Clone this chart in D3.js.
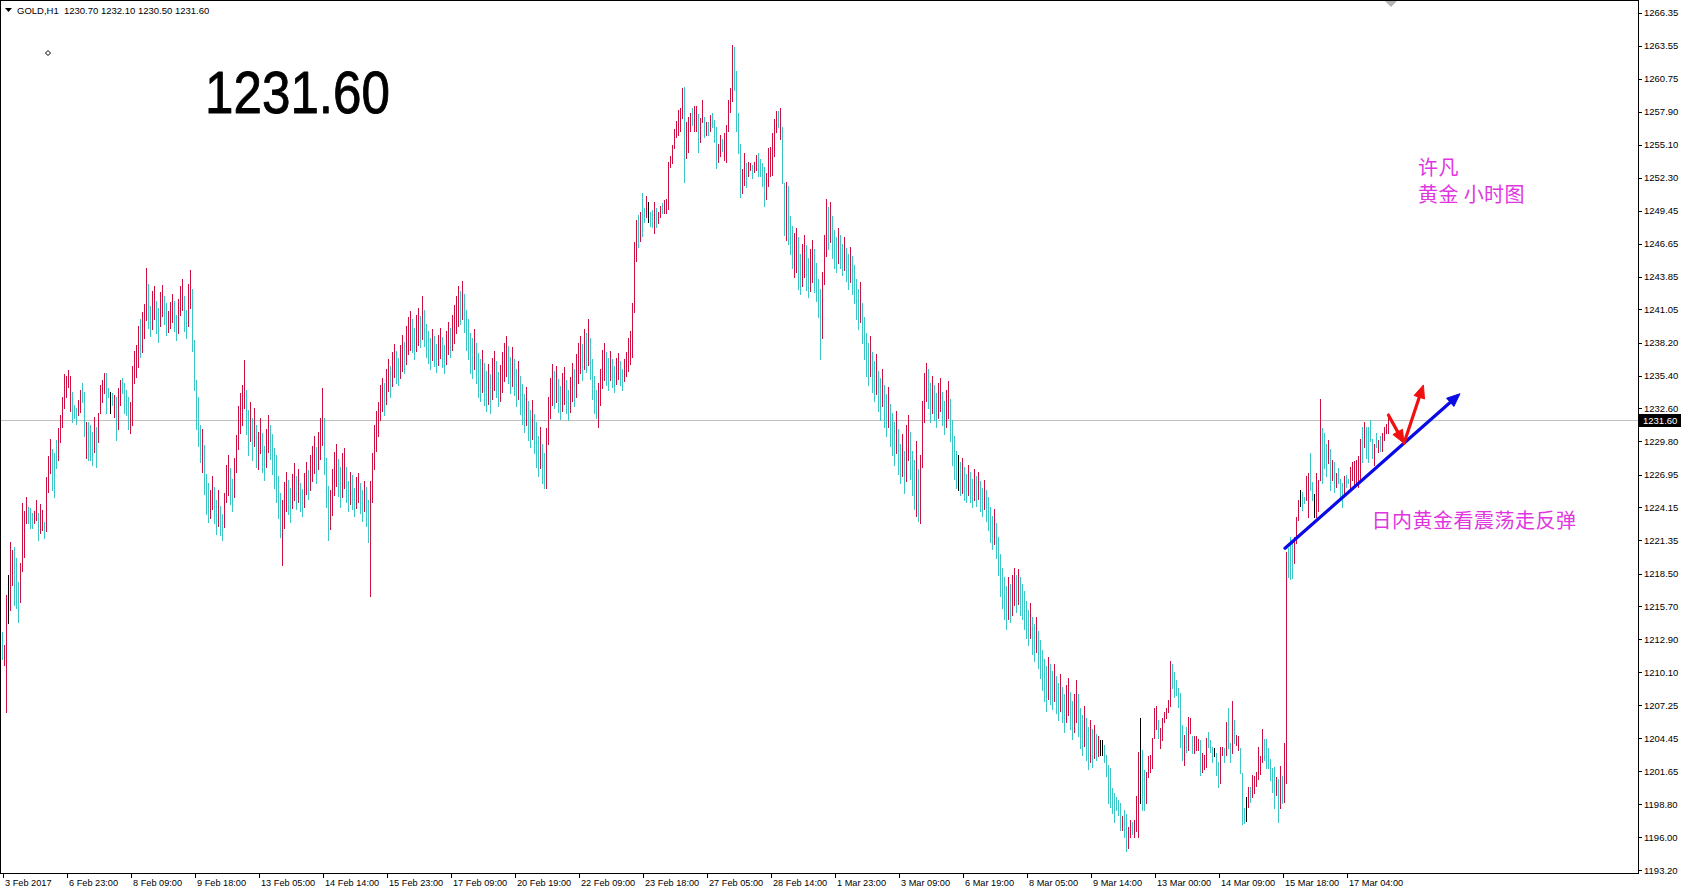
<!DOCTYPE html>
<html><head><meta charset="utf-8">
<script src="https://cdn.jsdelivr.net/npm/d3@7"></script>
<style>html,body{margin:0;padding:0;background:#fff;overflow:hidden}</style>
</head><body>
<svg id="c" width="1683" height="894"></svg>
<script>
// ---------------- data ----------------
const symbolTitle = "GOLD,H1";
const lastOHLC = [1230.70, 1232.10, 1230.50, 1231.60];
const lastPrice = 1231.60;
const bigLabel = "1231.60";
const priceTicks = [1266.35,1263.55,1260.75,1257.90,1255.10,1252.30,1249.45,1246.65,1243.85,1241.05,1238.20,1235.40,1232.60,1229.80,1226.95,1224.15,1221.35,1218.50,1215.70,1212.90,1210.10,1207.25,1204.45,1201.65,1198.80,1196.00,1193.20];
const timeLabels = ["3 Feb 2017","6 Feb 23:00","8 Feb 09:00","9 Feb 18:00","13 Feb 05:00","14 Feb 14:00","15 Feb 23:00","17 Feb 09:00","20 Feb 19:00","22 Feb 09:00","23 Feb 18:00","27 Feb 05:00","28 Feb 14:00","1 Mar 23:00","3 Mar 09:00","6 Mar 19:00","8 Mar 05:00","9 Mar 14:00","13 Mar 00:00","14 Mar 09:00","15 Mar 18:00","17 Mar 04:00"];
const timeLabelStep = 32;

const highs = [
1213.5,1212.4,1216.7,1218.4,1221.2,1220.5,1220.8,1219.8,1217.8,1219.4,1224.5,1223.8,1225.0,1224.2,1224.1,1223.7,1223.8,1224.8,1223.7,1224.4,1223.9,1222.9,1226.7,1228.5,1230.0,1229.1,1228.8,1229.9,1230.9,1232.0,1233.6,1235.5,
1235.4,1235.9,1235.4,1234.0,1232.9,1232.6,1233.3,1234.2,1234.8,1234.0,1231.4,1231.4,1231.2,1230.6,1231.9,1231.0,1232.2,1234.6,1235.0,1235.6,1235.6,1234.3,1234.0,1233.9,1233.7,1233.6,1234.3,1235.0,1235.2,1234.8,1234.2,1233.6,
1233.1,1236.2,1237.5,1238.0,1239.6,1240.2,1240.8,1241.5,1244.6,1243.2,1241.3,1242.6,1243.0,1241.8,1241.2,1242.5,1243.1,1242.2,1241.6,1240.9,1241.7,1242.4,1241.8,1240.6,1241.9,1243.0,1243.6,1242.2,1241.0,1243.2,1244.4,1242.8,
1238.4,1235.0,1233.6,1231.2,1230.8,1229.5,1227.0,1226.2,1225.6,1226.8,1225.9,1224.8,1225.6,1224.3,1223.6,1225.4,1227.8,1228.6,1227.5,1226.6,1228.4,1230.3,1232.8,1233.9,1234.6,1236.7,1234.2,1232.5,1233.1,1231.8,1232.6,1231.2,
1230.6,1231.8,1230.5,1229.4,1230.8,1232.0,1231.2,1230.4,1229.2,1228.6,1226.8,1225.4,1224.8,1226.3,1227.2,1226.5,1225.8,1227.0,1227.9,1226.8,1227.4,1226.2,1225.7,1227.1,1228.0,1227.3,1228.6,1229.4,1230.2,1229.3,1230.6,1231.8,
1234.3,1231.8,1228.4,1226.0,1225.6,1227.4,1228.9,1229.6,1228.3,1227.6,1228.8,1229.2,1227.6,1226.4,1227.2,1226.9,1225.8,1226.7,1227.1,1226.2,1225.6,1226.4,1225.9,1224.8,1226.4,1228.8,1231.2,1232.4,1233.1,1234.6,1235.2,1234.8,
1236.0,1236.8,1236.2,1237.4,1238.1,1237.5,1236.9,1238.0,1238.9,1238.3,1239.6,1240.4,1240.9,1240.2,1239.5,1240.6,1241.2,1240.5,1242.2,1241.0,1239.8,1239.2,1238.6,1239.4,1238.8,1238.1,1238.9,1239.5,1238.7,1238.0,1239.2,1240.0,
1239.5,1240.6,1241.4,1242.2,1243.0,1242.6,1243.5,1242.4,1241.0,1240.2,1239.0,1238.6,1239.4,1238.2,1237.3,1236.8,1237.6,1236.5,1235.8,1236.4,1235.5,1236.9,1237.5,1236.6,1235.7,1236.3,1237.4,1238.2,1238.8,1237.9,1237.0,1237.8,
1236.8,1236.0,1236.6,1235.4,1234.7,1233.8,1234.4,1233.2,1232.5,1233.3,1232.1,1231.4,1230.2,1231.0,1229.6,1228.8,1230.9,1233.6,1235.2,1236.4,1235.8,1236.2,1235.1,1234.5,1235.6,1236.1,1235.0,1234.2,1235.3,1236.5,1236.0,1237.2,
1238.2,1238.8,1238.1,1239.4,1239.0,1240.2,1238.6,1236.8,1235.4,1234.2,1234.8,1236.0,1237.6,1238.2,1237.4,1236.9,1237.5,1236.8,1236.2,1236.9,1237.3,1236.6,1236.0,1236.8,1237.4,1238.6,1239.2,1241.6,1246.8,1248.7,1249.1,1249.4,
1251.0,1249.7,1250.7,1250.2,1249.4,1249.5,1250.2,1249.7,1249.4,1249.9,1250.1,1250.4,1250.5,1253.6,1254.1,1255.1,1256.4,1257.1,1258.1,1258.2,1259.9,1260.0,1257.0,1257.5,1257.8,1258.2,1258.4,1258.4,1257.7,1257.4,1258.9,1257.5,
1257.0,1257.0,1257.6,1257.8,1257.2,1256.6,1255.2,1255.9,1255.6,1256.1,1256.8,1258.9,1259.9,1263.6,1263.4,1261.4,1257.8,1255.2,1253.0,1254.4,1253.5,1253.6,1253.5,1253.4,1253.6,1254.2,1254.4,1253.9,1253.5,1253.2,1252.7,1254.8,
1254.9,1256.1,1257.3,1258.0,1258.0,1258.2,1256.6,1251.8,1251.9,1251.6,1249.0,1248.2,1247.6,1248.0,1247.2,1245.8,1246.6,1247.4,1246.5,1245.4,1246.2,1247.0,1246.2,1245.0,1243.6,1242.8,1244.2,1247.4,1250.5,1249.8,1250.2,1249.0,
1247.8,1247.2,1248.0,1247.4,1246.6,1247.2,1246.3,1245.8,1246.4,1245.6,1244.8,1243.6,1242.8,1243.4,1241.6,1240.4,1239.0,1238.2,1238.8,1237.4,1236.6,1237.2,1235.8,1235.2,1236.0,1234.6,1233.8,1234.4,1233.0,1232.2,1231.4,1232.4,
1230.8,1229.6,1230.4,1229.0,1231.2,1232.0,1230.6,1229.0,1228.2,1229.8,1227.4,1228.6,1233.2,1235.6,1236.5,1236.0,1234.8,1235.4,1234.6,1233.9,1234.8,1235.2,1234.0,1233.2,1234.2,1234.9,1233.4,1231.6,1230.2,1229.0,1228.6,1228.0,
1228.4,1227.6,1227.0,1227.8,1227.2,1226.6,1227.4,1226.8,1227.2,1226.4,1225.8,1226.5,1225.6,1225.0,1224.2,1223.4,1224.0,1222.8,1221.6,1220.2,1219.0,1218.2,1217.4,1218.2,1217.6,1218.4,1219.0,1218.4,1218.9,1218.2,1217.6,1217.0,
1216.2,1215.4,1216.0,1214.8,1214.2,1214.8,1213.6,1212.8,1212.0,1211.2,1210.6,1211.4,1210.8,1210.2,1210.8,1209.8,1209.2,1209.9,1208.8,1208.2,1209.0,1209.6,1208.4,1207.6,1208.2,1209.4,1208.2,1207.0,1206.4,1207.2,1206.2,1205.4,
1206.0,1205.2,1205.6,1204.8,1204.6,1204.3,1204.3,1203.9,1203.0,1202.2,1201.9,1200.2,1199.8,1199.4,1199.2,1198.9,1197.8,1198.3,1198.0,1196.9,1197.5,1197.3,1197.5,1199.5,1203.3,1206.2,1203.4,1201.7,1201.6,1202.9,1203.0,1204.5,
1207.0,1207.2,1206.0,1205.3,1206.2,1206.7,1207.0,1207.7,1211.0,1210.8,1210.1,1209.4,1208.7,1208.3,1205.6,1204.7,1205.4,1206.3,1206.2,1204.6,1204.6,1204.6,1204.4,1204.3,1203.2,1203.0,1204.5,1205.0,1204.3,1203.7,1203.6,1203.2,
1202.4,1203.7,1203.7,1203.6,1205.8,1207.0,1204.0,1207.6,1206.0,1204.7,1204.6,1203.6,1201.5,1198.5,1199.4,1200.3,1200.3,1201.3,1201.2,1201.6,1203.7,1202.9,1205.2,1204.4,1204.4,1203.6,1202.7,1201.9,1202.0,1201.1,1201.0,1202.1,
1201.2,1204.0,1220.3,1220.7,1221.6,1221.1,1221.6,1223.3,1224.8,1225.6,1225.5,1225.0,1226.8,1227.1,1228.8,1226.3,1225.3,1227.1,1226.5,1233.4,1230.9,1230.5,1229.6,1229.9,1229.1,1228.2,1228.0,1227.1,1227.5,1226.6,1226.2,1226.8,
1226.9,1226.6,1227.6,1228.0,1228.1,1228.2,1228.5,1230.0,1231.0,1231.4,1231.0,1231.0,1231.6,1230.0,1229.6,1230.5,1229.9,1230.2,1230.5,1231.0,1231.3,1232.1
];
const lows = [
1211.2,1210.7,1206.7,1214.3,1215.4,1217.5,1215.8,1215.6,1214.4,1216.1,1218.7,1219.9,1222.8,1222.8,1222.4,1222.4,1222.8,1223.1,1221.4,1222.0,1222.2,1221.5,1222.1,1225.5,1227.1,1225.6,1225.0,1227.5,1228.2,1229.7,1231.0,1232.6,
1233.6,1234.4,1232.4,1231.4,1231.8,1231.3,1232.0,1232.3,1233.1,1230.2,1228.4,1228.2,1228.2,1227.8,1228.9,1227.6,1229.7,1232.2,1233.1,1233.9,1232.2,1233.6,1232.2,1232.9,1231.9,1229.9,1230.8,1232.9,1233.9,1232.2,1232.0,1230.8,
1230.5,1231.2,1234.8,1235.3,1236.1,1237.0,1237.4,1238.6,1240.1,1239.5,1238.8,1239.4,1240.2,1239.0,1238.3,1239.6,1240.5,1239.8,1238.9,1239.1,1239.5,1240.0,1239.2,1238.4,1239.0,1240.6,1241.0,1239.2,1238.6,1239.6,1241.2,1237.5,
1234.2,1230.8,1229.4,1228.0,1227.2,1225.3,1223.6,1222.9,1223.2,1224.0,1222.8,1221.9,1222.6,1221.8,1221.4,1222.5,1224.6,1225.2,1224.4,1223.8,1225.0,1227.2,1229.1,1230.5,1231.2,1232.6,1230.4,1228.6,1229.8,1228.2,1229.4,1227.6,
1227.4,1228.8,1227.2,1226.5,1227.6,1228.9,1228.3,1227.0,1225.8,1224.6,1223.2,1221.6,1219.2,1222.4,1223.8,1223.6,1222.9,1224.1,1224.8,1224.0,1224.6,1223.8,1223.4,1224.2,1225.3,1224.9,1225.6,1226.4,1227.1,1226.2,1227.4,1228.3,
1229.5,1227.0,1224.2,1221.4,1222.3,1223.5,1225.2,1226.0,1225.1,1224.2,1225.0,1225.8,1224.6,1223.8,1224.4,1224.0,1223.4,1224.1,1224.6,1223.7,1223.0,1223.8,1222.6,1221.2,1216.6,1224.6,1227.4,1229.0,1230.2,1231.6,1232.4,1232.0,
1233.0,1234.1,1233.6,1234.5,1235.3,1234.8,1234.6,1235.2,1235.8,1235.6,1236.4,1237.2,1237.6,1237.4,1236.8,1237.5,1238.0,1237.8,1238.5,1237.9,1237.0,1236.5,1236.0,1236.7,1236.2,1235.7,1236.3,1236.9,1236.1,1235.6,1236.4,1237.2,
1237.0,1237.6,1238.2,1239.0,1239.6,1239.8,1240.2,1239.1,1237.6,1236.8,1235.6,1235.2,1236.0,1234.8,1233.6,1233.2,1234.0,1232.9,1232.4,1233.0,1232.2,1233.4,1234.2,1233.6,1232.8,1233.2,1234.0,1234.9,1235.4,1234.8,1233.9,1234.5,
1233.7,1232.8,1233.4,1232.1,1231.3,1230.6,1231.2,1229.9,1229.3,1230.0,1228.8,1227.6,1226.8,1227.5,1226.2,1225.8,1225.8,1229.6,1231.8,1232.9,1232.6,1233.1,1232.3,1231.7,1232.4,1233.0,1232.2,1231.6,1232.3,1233.2,1232.8,1233.6,
1234.8,1235.6,1235.0,1236.0,1235.7,1236.3,1235.1,1233.4,1232.2,1231.8,1231.0,1232.9,1234.3,1235.0,1234.6,1234.2,1235.0,1234.4,1234.0,1234.7,1235.1,1234.6,1234.2,1234.9,1235.4,1235.8,1236.4,1237.0,1240.8,1245.2,1246.4,1246.9,
1247.3,1248.5,1248.9,1248.5,1248.2,1248.1,1247.6,1248.1,1248.4,1248.9,1249.3,1249.3,1249.3,1249.6,1253.2,1253.5,1254.8,1255.8,1255.9,1256.3,1257.4,1251.9,1254.0,1254.5,1256.3,1256.8,1256.3,1256.3,1254.5,1255.3,1257.0,1255.8,
1255.9,1255.9,1256.3,1256.6,1255.3,1253.1,1253.6,1254.1,1254.6,1253.8,1253.6,1256.3,1257.9,1258.8,1259.8,1256.3,1254.4,1250.6,1251.0,1251.7,1251.5,1252.4,1252.9,1252.3,1252.8,1252.9,1252.4,1252.4,1251.6,1249.9,1250.5,1251.6,
1252.4,1252.5,1254.1,1256.2,1256.6,1255.6,1251.8,1247.4,1247.0,1246.6,1245.8,1244.6,1243.8,1244.2,1242.8,1242.4,1243.0,1243.8,1242.7,1242.1,1242.6,1243.4,1242.5,1241.8,1240.4,1236.8,1238.6,1243.2,1245.6,1246.2,1246.8,1245.4,
1244.6,1244.2,1245.0,1244.6,1244.0,1244.4,1243.5,1242.8,1243.4,1242.4,1241.6,1240.2,1239.4,1240.0,1238.2,1236.8,1235.4,1234.6,1235.4,1234.0,1233.2,1233.8,1232.4,1231.6,1232.8,1231.0,1230.2,1231.0,1229.4,1228.6,1227.8,1228.8,
1227.0,1226.2,1226.8,1225.4,1226.4,1228.2,1226.6,1225.2,1224.0,1223.4,1223.0,1222.8,1227.6,1231.4,1233.2,1232.6,1231.4,1232.2,1231.6,1231.0,1231.8,1232.4,1231.2,1230.4,1231.0,1231.8,1229.8,1227.8,1226.6,1225.8,1225.6,1225.2,
1225.4,1224.8,1224.6,1225.2,1224.6,1224.2,1224.8,1224.3,1224.9,1223.8,1223.4,1224.0,1223.0,1222.2,1221.2,1220.6,1221.0,1219.8,1218.4,1216.6,1215.6,1214.6,1213.8,1214.6,1214.4,1215.0,1215.8,1215.2,1215.9,1215.0,1214.6,1213.8,
1213.0,1212.4,1213.0,1211.6,1211.0,1211.8,1210.4,1209.6,1208.6,1207.6,1206.8,1207.8,1207.4,1206.9,1207.6,1206.6,1206.0,1206.8,1205.8,1205.0,1205.8,1206.4,1205.2,1204.4,1205.0,1205.8,1204.6,1203.6,1203.0,1203.8,1202.6,1201.8,
1202.4,1202.0,1202.8,1202.6,1202.9,1203.0,1203.0,1202.4,1201.2,1198.9,1198.6,1198.1,1197.3,1198.3,1197.9,1196.6,1196.6,1196.0,1194.8,1195.1,1196.0,1196.3,1196.0,1196.5,1196.0,1198.9,1198.3,1198.3,1198.9,1201.1,1201.6,1201.9,
1204.5,1205.2,1204.5,1203.6,1204.3,1205.8,1206.2,1206.7,1207.2,1208.7,1208.0,1208.1,1207.1,1203.7,1202.6,1202.2,1203.3,1203.4,1204.9,1203.2,1203.2,1203.4,1203.4,1201.3,1201.6,1201.8,1202.0,1203.7,1203.3,1202.4,1202.9,1201.3,
1200.3,1200.6,1203.0,1202.4,1203.0,1203.6,1202.4,1203.2,1204.0,1203.9,1203.4,1201.5,1197.1,1197.2,1197.4,1198.6,1199.0,1199.4,1199.8,1200.4,1201.0,1201.4,1202.4,1202.6,1201.9,1201.9,1200.9,1199.9,1198.5,1199.6,1197.3,1198.5,
1198.9,1199.0,1200.6,1218.2,1218.0,1218.1,1219.4,1221.1,1223.1,1224.3,1223.9,1224.5,1224.8,1223.3,1225.6,1224.8,1223.3,1223.3,1223.8,1226.5,1226.2,1227.5,1226.8,1227.9,1225.6,1226.5,1225.5,1225.9,1226.2,1224.8,1224.2,1225.2,
1225.9,1226.2,1225.6,1226.5,1225.9,1226.2,1225.9,1226.5,1228.0,1229.3,1228.4,1228.0,1229.8,1228.4,1227.8,1229.3,1228.9,1229.0,1229.0,1229.9,1230.5,1230.5
];
// u = close above open, d = close below open, n = unchanged (one letter per bar)
const dirs = `
duun uudd duuu uddd uudu uduu uddd uuuu
uuud dduu ddud ddud uuuu ddnd uduu dddd
uuuu uduu uddu uddu uddu uudd uuud duud
dddd uddd uudd uddu uudd uuuu uudd udud
uudd uudd dddd uuud duud uddu uduu uduu
uddd uuuu dduu ddud duud dudd uuuu uuud
uudu uddu uduu uddu udud dddu dduu dduu
duuu udud dddd uddd uddu duud duuu uddu
ddud ddud dudd dudd uuuu dudd uudd uudu
uudu dudd dduu uudd uddu uddu uuuu uudu
ddun ddud uudu uuuu uuuu uduu uduu duud
udud dduu duuu uudd dduu duud uudd dduu
uuuu dudd uddd uudd uudd uudd dduu udud
ddud dudd uddd dudd ddud dudd uddu dddu
ddud uudd dudu uuud dudd uudd uudd ddnd
uddu ddud uddu dddd uddd dddu duud uddd
ddud dudd dddu ddud dudd uudd uudd dudd
udud unnd dddd dddd uddu uduu undd uuuu
uudu uuuu uddd dddu duud uuud uuud ddnd
duud uddu duud ddnu duuu uuud dddd dudu
duud dduu undd uudd nuuu dddu dudu dddu
dduu uuuu dudd ddud uduu uu`.replace(/\s/g, "");

// annotations, anchored in (bar index, price)
const noteHeader = {lines: ["许凡", "黄金 小时图"], bar: 708, price: 1252.5, lineStep: 1250.2};
const noteView = {text: "日内黄金看震荡走反弹", bar: 684.8, price: 1222.4};
const bigLabelPos = {bar: 101.5, price: 1257.8};
const blueArrow = [[641.5, 1220.66], [729.0, 1233.85]];
const redArrow = [[693.2, 1232.03], [701.0, 1229.62], [710.7, 1234.6]];

// ---------------- drawing ----------------
const W = 1683, H = 894;
const plotRight = 1638, plotBottom = 873;
const svg = d3.select("#c");
svg.append("rect").attr("width", W).attr("height", H).attr("fill", "#fff");

const x = d3.scaleLinear().domain([0, 818]).range([2, plotRight]);
const y = d3.scaleLinear().domain([1196.0, 1266.35]).range([837.2, 12.9]);

const colUp = "#cc1040", colDn = "#3cc6c6", colFlat = "#000000";
const bars = highs.map((h, i) => ({i, h, l: lows[i], d: dirs[i]}));
if (highs.length !== lows.length || highs.length !== dirs.length) console.error("length mismatch", highs.length, lows.length, dirs.length);

const clipId = "plotclip";
svg.append("clipPath").attr("id", clipId).append("rect").attr("x", 1).attr("y", 1).attr("width", plotRight - 1).attr("height", plotBottom - 1);
const plot = svg.append("g").attr("clip-path", `url(#${clipId})`);

// last price line
plot.append("line").attr("x1", 0).attr("x2", plotRight).attr("y1", Math.round(y(lastPrice)) + 0.5).attr("y2", Math.round(y(lastPrice)) + 0.5)
  .attr("stroke", "#c0c0c0").attr("stroke-width", 1);

plot.append("g").selectAll("rect").data(bars).join("rect")
  .attr("x", d => Math.round(x(d.i)))
  .attr("width", 1)
  .attr("y", d => Math.round(y(d.h)))
  .attr("height", d => Math.max(1, Math.round(y(d.l)) - Math.round(y(d.h)) + 1))
  .attr("fill", d => d.d === "u" ? colUp : d.d === "d" ? colDn : colFlat)
  .attr("shape-rendering", "crispEdges");

// frame
const frame = svg.append("g").attr("stroke", "#000").attr("stroke-width", 1).attr("shape-rendering", "crispEdges");
frame.append("line").attr("x1", 0.5).attr("x2", 0.5).attr("y1", 0).attr("y2", plotBottom + 0.5);
frame.append("line").attr("x1", 0).attr("x2", plotRight + 0.5).attr("y1", 0.5).attr("y2", 0.5);
frame.append("line").attr("x1", plotRight + 0.5).attr("x2", plotRight + 0.5).attr("y1", 0).attr("y2", plotBottom + 0.5);
frame.append("line").attr("x1", 0).attr("x2", plotRight + 0.5).attr("y1", plotBottom + 0.5).attr("y2", plotBottom + 0.5);

const axisFont = "Tahoma, 'Liberation Sans', Arial, sans-serif";

// price axis
const yAxis = d3.axisRight(y).tickValues(priceTicks).tickSize(3).tickPadding(2).tickFormat(d3.format(".2f"));
const gy = svg.append("g").attr("transform", `translate(${plotRight + 1},0)`).call(yAxis);
gy.select(".domain").remove();
gy.selectAll(".tick line").attr("stroke", "#000").attr("shape-rendering", "crispEdges");
gy.selectAll(".tick text").attr("font-family", axisFont).attr("font-size", "9.5px").attr("fill", "#000");

// last price box
const ly = Math.round(y(lastPrice));
svg.append("rect").attr("x", plotRight + 1).attr("y", ly - 6).attr("width", 42).attr("height", 13).attr("fill", "#000");
svg.append("text").attr("x", plotRight + 5).attr("y", ly + 4).attr("font-family", axisFont).attr("font-size", "9.5px")
  .attr("fill", "#fff").text(d3.format(".2f")(lastPrice));

// time axis
const timeIdx = timeLabels.map((_, k) => k * timeLabelStep);
const xAxis = d3.axisBottom(x).tickValues(timeIdx).tickSize(4).tickPadding(3).tickFormat((d, k) => timeLabels[k]);
const gx = svg.append("g").attr("transform", `translate(0.5,${plotBottom + 1})`).call(xAxis);
gx.select(".domain").remove();
gx.selectAll(".tick line").attr("stroke", "#000").attr("shape-rendering", "crispEdges");
gx.selectAll(".tick text").attr("font-family", axisFont).attr("font-size", "9.2px").attr("fill", "#000")
  .attr("text-anchor", "start").attr("dx", 2).attr("dy", "0.55em");

// header
svg.append("path").attr("d", "M5,8 L12,8 L8.5,12 Z").attr("fill", "#000");
svg.append("text").attr("x", 17).attr("y", 14).attr("font-family", axisFont).attr("font-size", "9.5px").attr("fill", "#000")
  .attr("xml:space", "preserve")
  .text(`${symbolTitle}  ${lastOHLC.map(d3.format(".2f")).join(" ")}`);

// shift marker
svg.append("path").attr("d", "M1385,1 L1397,1 L1391,7 Z").attr("fill", "#b4b4b4");

// tiny diamond
svg.append("path").attr("d", "M48,50.5 L50.5,53 L48,55.5 L45.5,53 Z").attr("fill", "none").attr("stroke", "#000").attr("stroke-width", 1);

// big price label
svg.append("text").attr("x", x(bigLabelPos.bar)).attr("y", y(bigLabelPos.price))
  .attr("font-family", "'Liberation Sans', Arial, sans-serif").attr("font-size", "60px").attr("fill", "#000")
  .attr("stroke", "#000").attr("stroke-width", 0.9).attr("stroke-linejoin", "round")
  .attr("textLength", 185).attr("lengthAdjust", "spacingAndGlyphs").text(bigLabel);

// chinese notes
const cjk = "'Noto Sans CJK SC', 'Noto Sans CJK TC', sans-serif";
const magenta = "#e036e0";
const hdr = svg.append("text").attr("font-family", cjk).attr("font-size", "20px").attr("fill", magenta)
  .attr("letter-spacing", "0.4px").attr("xml:space", "preserve");
noteHeader.lines.forEach((t, k) => {
  hdr.append("tspan").attr("x", x(noteHeader.bar))
    .attr("y", y(k === 0 ? noteHeader.price : noteHeader.lineStep)).text(t);
});
svg.append("text").attr("x", x(noteView.bar)).attr("y", y(noteView.price)).attr("font-family", cjk).attr("font-size", "20px")
  .attr("letter-spacing", "0.5px").attr("fill", magenta).text(noteView.text);

// arrows
function arrow(points, color) {
  const p = points.map(([b, v]) => [x(b), y(v)]);
  const g = svg.append("g");
  for (let k = 0; k < p.length - 1; k++) {
    const [x0, y0] = p[k], [x1, y1] = p[k + 1];
    const dx = x1 - x0, dy = y1 - y0, len = Math.hypot(dx, dy);
    const ux = dx / len, uy = dy / len, nx = -uy, ny = ux;
    const L = 13, hw = 5.5;
    const bx = x1 - ux * L, by = y1 - uy * L;
    g.append("line").attr("x1", x0).attr("y1", y0).attr("x2", bx + ux * 2).attr("y2", by + uy * 2)
      .attr("stroke", color).attr("stroke-width", 3.2).attr("stroke-linecap", "round");
    g.append("path").attr("d", `M${x1},${y1} L${bx + nx * hw},${by + ny * hw} L${bx - nx * hw},${by - ny * hw} Z`)
      .attr("fill", color).attr("stroke", color).attr("stroke-width", 1).attr("stroke-linejoin", "round");
  }
}
arrow(blueArrow, "#0a0ae6");
arrow(redArrow, "#f01010");
</script>
</body></html>
